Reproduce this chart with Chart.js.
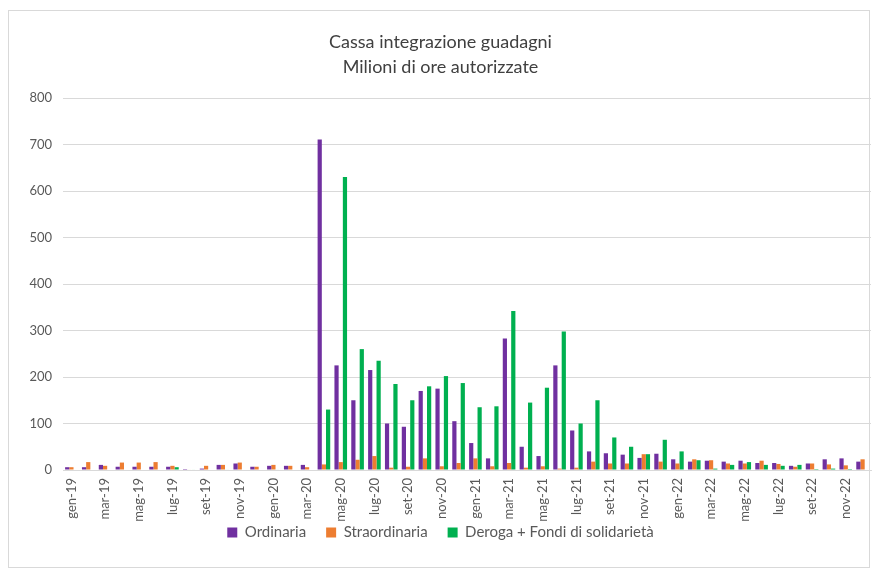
<!DOCTYPE html>
<html lang="it">
<head>
<meta charset="utf-8">
<title>Cassa integrazione guadagni</title>
<script src="https://cdn.jsdelivr.net/npm/chart.js@4/dist/chart.umd.min.js"></script>
<style>
  html, body { margin: 0; padding: 0; background: #ffffff; }
  #wrap { position: relative; width: 877px; height: 581px; }
  #frame { position: absolute; left: 8px; top: 10px; width: 862px; height: 558px; border: 1px solid #d9d9d9; box-sizing: border-box; pointer-events: none; }
</style>
</head>
<body>
<div id="wrap">
  <canvas id="cig" width="877" height="581"></canvas>
  <div id="frame"></div>
</div>
<script>
// Mesi da gennaio 2019 a dicembre 2022
const monthNames = ['gen', 'feb', 'mar', 'apr', 'mag', 'giu', 'lug', 'ago', 'set', 'ott', 'nov', 'dic'];
const years = ['19', '20', '21', '22'];
const categories = [];
years.forEach(y => monthNames.forEach(m => categories.push(m + '-' + y)));

// Milioni di ore autorizzate
const ordinaria = [
  6, 6, 11, 7, 7, 7, 7, 2, 3, 11, 14, 7,
  9, 9, 11, 711, 225, 150, 215, 100, 93, 170, 175, 105,
  58, 25, 283, 50, 30, 225, 85, 40, 36, 33, 26, 35,
  23, 18, 20, 18, 20, 15, 15, 9, 14, 23, 25, 18
];
const straordinaria = [
  6, 17, 9, 16, 16, 17, 9, 1, 9, 11, 16, 7,
  11, 9, 6, 12, 17, 22, 30, 5, 7, 25, 8, 15,
  25, 8, 15, 5, 8, 3, 5, 18, 14, 14, 34, 18,
  14, 23, 21, 14, 14, 20, 13, 7, 14, 12, 10, 23
];
const deroga = [
  0, 0, 0, 0, 0, 0, 6, 1, 0, 1, 0, 0,
  1, 0, 0, 130, 630, 260, 235, 185, 150, 180, 202, 187,
  135, 137, 342, 145, 177, 298, 100, 150, 70, 50, 34, 65,
  40, 21, 3, 11, 17, 11, 9, 11, 2, 3, 2, 0
];

const yTicks = [0, 100, 200, 300, 400, 500, 600, 700, 800];

const FONT = "Lato, 'Open Sans', 'Liberation Sans', sans-serif";
const TEXT = '#595959';

new Chart(document.getElementById('cig'), {
  type: 'bar',
  data: {
    labels: categories,
    datasets: [
      { label: 'Ordinaria', data: ordinaria, backgroundColor: '#7030A0' },
      { label: 'Straordinaria', data: straordinaria, backgroundColor: '#ED7D31' },
      { label: 'Deroga + Fondi di solidarietà', data: deroga, backgroundColor: '#00B050' }
    ]
  },
  options: {
    responsive: false,
    animation: false,
    datasets: { bar: { categoryPercentage: 0.75, barPercentage: 1.0 } },
    layout: { padding: { left: 10, right: 6, top: 30, bottom: 31 } },
    plugins: {
      title: {
        display: true,
        text: ['Cassa integrazione guadagni', 'Milioni di ore autorizzate'],
        color: '#404040',
        font: { family: FONT, size: 18, weight: 'normal', lineHeight: 1.39 },
        padding: { top: 0, bottom: 18 }
      },
      legend: {
        position: 'bottom',
        labels: {
          color: TEXT,
          font: { family: FONT, size: 15 },
          boxWidth: 10,
          boxHeight: 10,
          padding: 20
        }
      },
      tooltip: { enabled: false }
    },
    scales: {
      x: {
        grid: { display: false, drawTicks: false },
        border: { color: '#d9d9d9', width: 1 },
        ticks: {
          color: TEXT,
          font: { family: FONT, size: 13 },
          autoSkip: false,
          minRotation: 90,
          maxRotation: 90,
          padding: 8,
          callback: function (value, index) {
            return index % 2 === 0 ? categories[index] : '';
          }
        },
        afterFit: s => {
          // the month labels run past the axis box into the legend gap, so no label clipping
          s.height = 35;
          s.paddingLeft = 0;
          s.paddingRight = 0;
          s._computeLabelArea = () => undefined;
        }
      },
      y: {
        min: 0,
        max: 800,
        afterBuildTicks: s => { s.ticks = yTicks.map(v => ({ value: v })); },
        grid: { color: '#d9d9d9', drawTicks: false },
        border: { display: false },
        ticks: {
          color: TEXT,
          font: { family: FONT, size: 13 },
          padding: 11
        },
        afterFit: s => { s.width = 53; }
      }
    }
  }
});
</script>
</body>
</html>
